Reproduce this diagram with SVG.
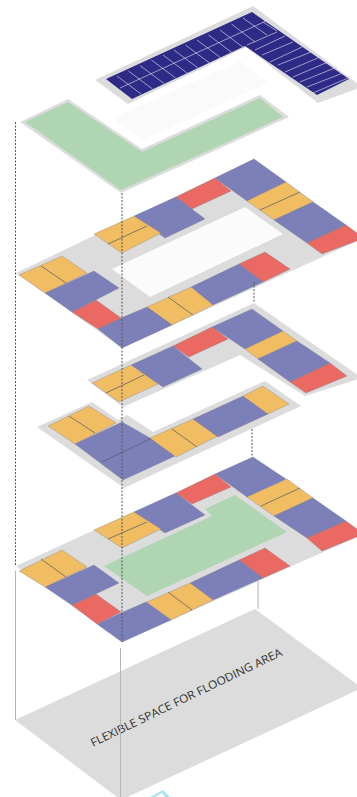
<svg xmlns="http://www.w3.org/2000/svg" width="357" height="797" viewBox="0 0 357 797">
<style>
.g{fill:#dcdcdc}
.b,.r,.y{stroke:#6d6d80;stroke-width:.3}
.b{fill:#7d80b8}.r{fill:#ea6a63}.y{fill:#f0bd62}.gr{fill:#afd5b2}
.d{stroke:#54546a;stroke-width:.7;fill:none}
.dash{stroke:#555;stroke-width:1;stroke-dasharray:2 1.5;fill:none}
.sol{stroke:#b4b4b4;stroke-width:1;fill:none}
.pv{stroke:#cfcfe6;stroke-width:.7;fill:none}
</style>
<rect width="357" height="797" fill="#fff"/>
<g id="flood-plate">
<polygon class="g" points="15,720 255,609 362,688 121,800"/>
<polygon points="150,797 163,790 170,797 165,797 162,793 155,797" fill="#a8e4f5"/>
<text x="93" y="747" transform="rotate(-25.8 93 747)" font-family="Open Sans, sans-serif" font-size="11.4" textLength="211" lengthAdjust="spacingAndGlyphs" fill="#333">FLEXIBLE SPACE FOR FLOODING AREA</text>
</g>
<g id="ground-floor">
<polygon class="g" points="16,566 253,457 364,534 122,642"/>
<polygon class="gr" points="104,566 212,516 205,509 235,495 287,532 147,596"/>
<polygon class="b" points="215,474 253,457 286,479 247,497"/>
<polygon class="r" points="176,493 215,474 231,487 192,504"/>
<polygon class="b" points="134,512 176,493 205,515 165,533"/>
<polygon class="y" points="94,530 134,512 161,529 122,548"/><path class="d" d="M108,539 147,522"/>
<polygon class="y" points="247,497 287,479 313,498 274,516"/><path class="d" d="M261,506 300,488"/>
<polygon class="b" points="274,516 313,498 346,521 307,538"/>
<polygon class="r" points="307,538 346,521 364,534 322,551"/>
<polygon class="r" points="239,560 265,548 290,566 263,578"/>
<polygon class="b" points="190,583 239,560 263,578 213,600"/>
<polygon class="y" points="147,602 190,583 213,600 171,620"/><path class="d" d="M168,592 192,610"/>
<polygon class="b" points="97,624 121,613 146,602 171,620 122,642"/>
<polygon class="r" points="72,605 96,594 121,612 97,624"/>
<polygon class="b" points="45,587 94,565 119,583 72,605"/>
<polygon class="y" points="19,571 62,550 87,567 45,587"/><path class="d" d="M41,559 66,577"/>
</g>
<g id="floor-2-lower">
<polygon class="g" points="37,427 92,402 118,420 127,415 153,432 265,381 301,406 124,488"/>
<polygon class="y" points="48,426 89,406 116,423 75,444"/><path class="d" d="M69,416 95,433"/>
<polygon class="b" points="75,444 122,422 150,438 175,456 123,480"/><path class="d" d="M102,462 150,439"/>
<polygon class="y" points="150,438 193,419 218,436 176,457"/><path class="d" d="M172,429 197,447"/>
<polygon class="b" points="193,419 243,396 268,414 218,437"/>
<polygon class="y" points="243,396 263,386 289,404 268,414"/>
</g>
<g id="floor-2-upper">
<polygon class="g" points="87,380 254,303 362,378 305,396 240,355 123,407"/>
<polygon class="b" points="212,327 252,309 283,331 245,349"/>
<polygon class="r" points="173,346 212,327 228,339 189,357"/>
<polygon class="b" points="131,365 173,346 202,369 163,387"/>
<polygon class="y" points="92,383 131,365 158,384 119,402"/><path class="d" d="M106,393 144,375"/>
<polygon class="y" points="245,349 283,331 297,341 258,359"/>
<polygon class="b" points="258,359 297,341 330,363 290,382"/>
<polygon class="r" points="290,382 330,363 347,376 306,393"/>
</g>
<g id="floor-3">
<polygon class="g" points="16,273 254,159 364,238 122,348"/>
<polygon fill="#fbfbfb" points="112,269 245,207 283,234 150,297"/>
<polygon class="b" points="215,178 254,159 286,182 247,201"/>
<polygon class="r" points="176,197 215,178 231,191 192,209"/>
<polygon class="b" points="134,216 176,197 205,219 165,238"/>
<polygon class="y" points="94,234 134,216 161,233 122,253"/><path class="d" d="M108,244 147,226"/>
<polygon class="y" points="247,201 286,182 313,202 274,220"/><path class="d" d="M260,210 300,192"/>
<polygon class="b" points="274,220 313,202 346,225 307,243"/>
<polygon class="r" points="307,243 346,225 364,238 322,254"/>
<polygon class="r" points="239,264 265,252 290,269 263,282"/>
<polygon class="b" points="191,287 239,264 263,282 213,305"/>
<polygon class="y" points="147,307 191,287 213,305 172,325"/><path class="d" d="M168,297 193,315"/>
<polygon class="b" points="98,329 121,318 147,307 172,325 122,348"/>
<polygon class="r" points="72,312 96,300 121,318 98,329"/>
<polygon class="b" points="45,293 94,271 119,288 72,312"/>
<polygon class="y" points="19,275 62,256 87,273 45,293"/><path class="d" d="M41,266 66,283"/>
</g>
<g id="green-roof">
<polygon class="g" points="20,122 68,99 142,149 260,95 289,117 121,193"/>
<polygon class="gr" points="25,122 68,102 142,152 260,98 283,117 121,190"/>
</g>
<g id="void">
<polygon fill="#fafafa" points="113,118 240,61 268,83 143,140"/>
</g>
<g id="solar-roof">
<polygon class="g" points="95,80 253,6 362,87 318,103 246,47 128,104"/>
<polygon fill="#2e2a86" points="106,79 252,12 349,79 317,95 245,46 132,99"/>
<path class="pv" d="M120,88 266,21M117,76 141,94M128.500,71 152.500,89M140,65.500 164,83.500M151.500,60 175.500,78M163,55 187,73M174,50 198,68M185.500,45 209.500,63M197,40 221,58M208.500,35 232.500,53M220,30 244,48M231.500,24 255,42M243,18 267,35M263,22 277,31M247,45 277,32M255,50 285,36M262,55 293,42M270,62 302,47M278,65 311,52M285,72 320,57M293,77 328,62M300,82 337,67M307,87 343,73M313,93 348,78"/>
</g>
<g id="connectors">
<path class="dash" d="M15.500,122V565M122,193V642M254,282V303M252,429V457"/>
<path class="sol" d="M15.500,571V720M258,580V609M120.500,648V797"/>
</g>
</svg>
